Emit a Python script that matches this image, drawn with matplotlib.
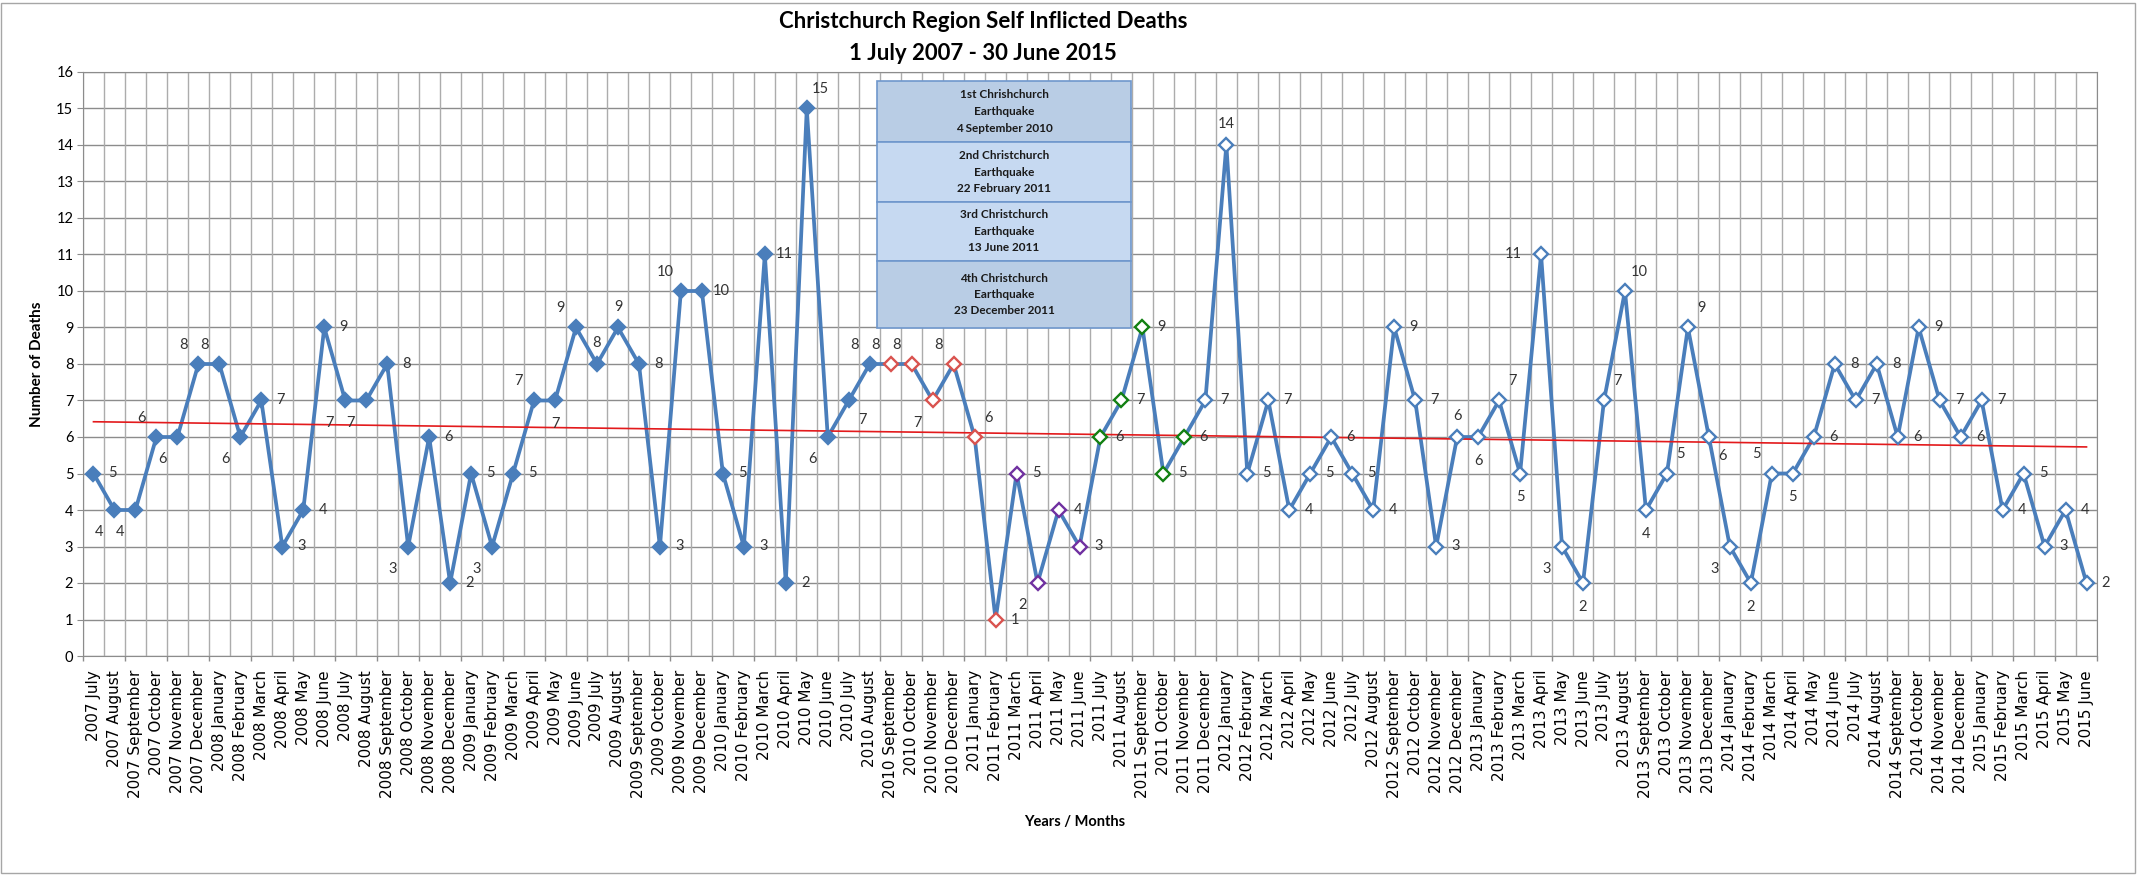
import matplotlib
matplotlib.use("Agg")
import matplotlib.pyplot as plt
from matplotlib.patches import Rectangle
import numpy as np

# monthly counts, July 2007 - June 2015
years = [2007, 2008, 2009, 2010, 2011, 2012, 2013, 2014, 2015]
month_names = ['January', 'February', 'March', 'April', 'May', 'June',
               'July', 'August', 'September', 'October', 'November', 'December']
deaths = [5, 4, 4, 6, 6, 8, 8, 6, 7, 3, 4, 9,
          7, 7, 8, 3, 6, 2, 5, 3, 5, 7, 7, 9,
          8, 9, 8, 3, 10, 10, 5, 3, 11, 2, 15, 6,
          7, 8, 8, 8, 7, 8, 6, 1, 5, 2, 4, 3,
          6, 7, 9, 5, 6, 7, 14, 5, 7, 4, 5, 6,
          5, 4, 9, 7, 3, 6, 6, 7, 5, 11, 3, 2,
          7, 10, 4, 5, 9, 6, 3, 2, 5, 5, 6, 8,
          7, 8, 6, 9, 7, 6, 7, 4, 5, 3, 4, 2]

# marker groups (start, end) in month index
pre_quake = (0, 38)
quake1 = (38, 44)
quake2 = (44, 48)
quake3 = (48, 53)
post_quake = (53, 96)

quake_notes = [["1st Chrishchurch", "Earthquake", "4 September 2010"],
               ["2nd Christchurch", "Earthquake", "22 February 2011"],
               ["3rd Christchurch", "Earthquake", "13 June 2011"],
               ["4th Christchurch", "Earthquake", "23 December 2011"]]

month_labels = []
for y in years:
    for m in month_names:
        month_labels.append(f"{y} {m}")
month_labels = month_labels[6:6 + 96]

# where each data label sits relative to its point
label_pos = ['r', 'bl', 'bl', 'al', 'bl', 'al', 'al', 'bl', 'r', 'r', 'r', 'r',
             'bl', 'bl', 'r', 'bl', 'r', 'r', 'r', 'bl', 'r', 'al', 'b', 'al',
             'a', 'a', 'r', 'r', 'al', 'r', 'r', 'r', 'r', 'r', 'ar', 'bl',
             'br', 'al', 'al', 'al', 'bl', 'al', 'ar', 'r', 'r', 'bl', 'r', 'r',
             'r', 'r', 'r', 'r', 'r', 'r', 'a', 'r', 'r', 'r', 'r', 'r',
             'r', 'r', 'r', 'r', 'r', 'a', 'b', 'ar', 'b', 'l', 'bl', 'b',
             'ar', 'ar', 'b', 'ar', 'ar', 'br', 'bl', 'b', 'al', 'b', 'r', 'r',
             'r', 'r', 'r', 'r', 'r', 'r', 'r', 'r', 'r', 'r', 'r', 'r']
offsets = {'r': (14, 0), 'l': (-20, 0), 'a': (0, 15), 'b': (0, -17),
           'al': (-11, 14), 'bl': (-11, -16), 'ar': (10, 14), 'br': (10, -14)}

W, H = 2138, 875
fig = plt.figure(figsize=(W / 100, H / 100), dpi=100)
ax = fig.add_axes([83 / W, 1 - 656 / H, (2097 - 83) / W, (656 - 72) / H])

x = np.arange(len(deaths))
y = np.array(deaths)

blue = '#4a7ebb'
ax.plot(x, y, color=blue, lw=2.7, zorder=3)

def group(rng, face, edge):
    s = slice(*rng)
    ax.plot(x[s], y[s], ls='none', marker='D', ms=7.5, mfc=face, mec=edge,
            mew=1.7, zorder=4)

group(pre_quake, blue, blue)
group(quake1, 'white', '#d9534f')
group(quake2, 'white', '#7030a0')
group(quake3, 'white', '#128012')
group(post_quake, 'white', blue)

# linear trendline
k, b0 = np.polyfit(x, y, 1)
ax.plot(x, k * x + b0, color='#e31a1c', lw=1.2, zorder=3)

for i, v in enumerate(deaths):
    dx, dy = offsets[label_pos[i]]
    ax.annotate(str(v), (i, v), xytext=(dx, dy), textcoords='offset points',
                ha='center', va='center', fontsize=10.5, color='#333333',
                family='Lato', zorder=5)

ax.set_xlim(-0.5, len(deaths) - 0.5)
ax.set_ylim(0, 16)
ax.set_yticks(range(0, 17))
ax.yaxis.grid(True, color='#8c8c8c', lw=1)
ax.vlines(np.arange(-0.5, len(deaths)), 0, 16, color='#acacac', lw=1, zorder=1)
ax.vlines(np.arange(-0.5, len(deaths), 2), -0.14, 0, color='#8c8c8c', lw=1,
          clip_on=False)
ax.set_axisbelow(True)

ax.set_xticks(x)
ax.set_xticklabels(month_labels, rotation=90, fontsize=11, family='DejaVu Sans',
                   va='top', ha='center')
ax.tick_params(axis='x', length=0, pad=10)
ax.tick_params(axis='y', length=4, color='#8c8c8c', pad=3, labelsize=10.5)
for t in ax.get_yticklabels():
    t.set_family('Lato')
for sp in ax.spines.values():
    sp.set_color('#8c8c8c')

fig.text(37 / W, 1 - 364 / H, 'Number of Deaths', rotation=90, ha='center',
         va='center', fontsize=11, fontweight='bold', family='Lato')
fig.text(1075 / W, 1 - 822 / H, 'Years / Months', ha='center', va='center',
         fontsize=10.5, fontweight='bold', family='Lato')
fig.text(983 / W, 1 - 21 / H, 'Christchurch Region Self Inflicted Deaths',
         ha='center', va='center', fontsize=16, fontweight='bold', family='Lato')
fig.text(983 / W, 1 - 54 / H, '1 July 2007 - 30 June 2015',
         ha='center', va='center', fontsize=16, fontweight='bold', family='Lato')

# earthquake note boxes
edges = [81, 142, 202, 261, 328]
fills = ['#b9cde5', '#c6d9f1', '#c6d9f1', '#b9cde5']
bx0, bx1 = 877, 1131
for j, note in enumerate(quake_notes):
    top, bot = edges[j], edges[j + 1]
    fig.patches.append(Rectangle((bx0 / W, 1 - bot / H), (bx1 - bx0) / W,
                                 (bot - top) / H, transform=fig.transFigure,
                                 facecolor=fills[j], edgecolor='#6f97cc', lw=1.2,
                                 zorder=10))
    cy = (top + bot) / 2
    for n, line in enumerate(note):
        fig.text((bx0 + bx1) / 2 / W, 1 - (cy + (n - 1) * 16.5) / H, line,
                 ha='center', va='center', fontsize=8.5, fontweight='bold',
                 family='Lato', color='#1a1a1a', zorder=11)

fig.patches.append(Rectangle((1 / W, 2 / H), 2134 / W, 870 / H,
                             transform=fig.transFigure, fill=False,
                             edgecolor='#a6a6a6', lw=1))

fig.savefig('out.png', dpi=100)
